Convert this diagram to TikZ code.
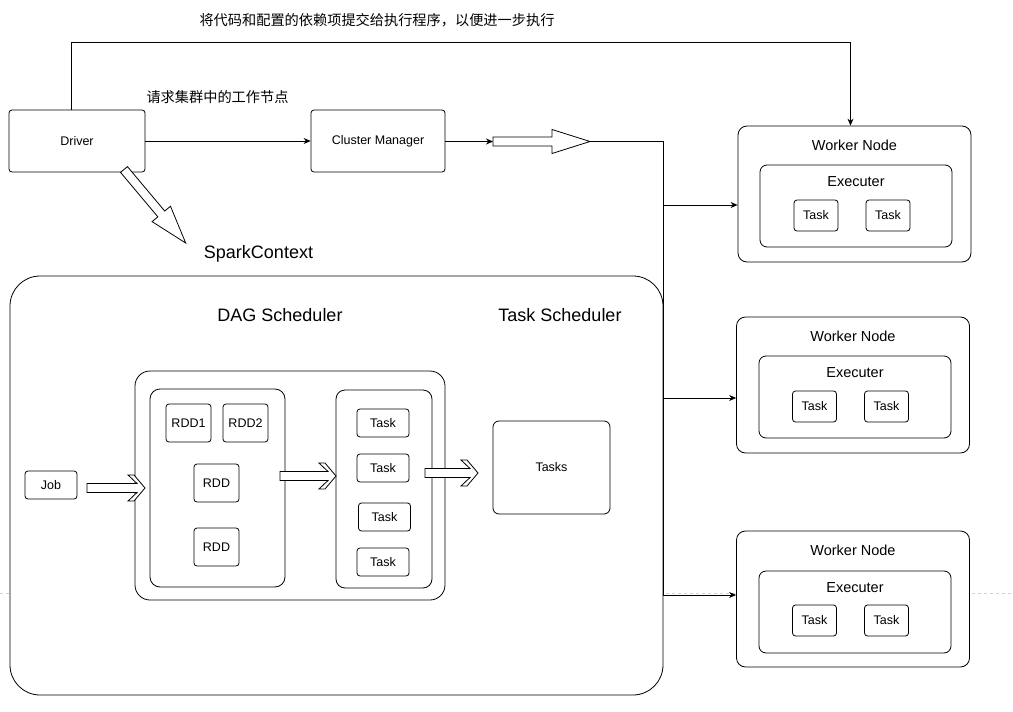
\documentclass[tikz,border=0pt]{standalone}
\usepackage{fontspec}
\setmainfont{Liberation Sans}
\newfontfamily\cjk{Noto Sans CJK SC}
\usetikzlibrary{arrows.meta}

\tikzset{
    pics/chevarrow/.style={code={
        \draw[fill=white] (0,-4.5) -- (#1-8,-4.5) -- (#1-17,-13) -- (#1-11,-13) -- (#1,0)
            -- (#1-11,13) -- (#1-17,13) -- (#1-8,4.5) -- (0,4.5) -- cycle;
    }},
    pics/blockarrow/.style={code={
        \draw[fill=white] (0,-4.5) -- (#1-38,-4.5) -- (#1-38,-12) -- (#1,0)
            -- (#1-38,12) -- (#1-38,4.5) -- (0,4.5) -- cycle;
    }},
}

\begin{document}
\begin{tikzpicture}[
    x=1pt, y=-1pt, line width=0.8pt, >={Stealth[length=7pt,width=6pt]},
    box/.style={rectangle, draw, fill=white, rounded corners=3pt, inner sep=0pt,
                font=\fontsize{12.5}{14}\selectfont},
    worker/.style={rectangle, draw, fill=white, rounded corners=9pt,
                   minimum width=233pt, minimum height=136pt},
    executer/.style={rectangle, draw, fill=white, rounded corners=7pt,
                     minimum width=192pt, minimum height=82pt},
    title/.style={inner sep=0pt, font=\fontsize{14.5}{16}\selectfont},
    bigtitle/.style={inner sep=0pt, font=\fontsize{18}{20}\selectfont},
    note/.style={inner sep=0pt, font=\cjk\fontsize{14.2}{16}\selectfont}
]
    \useasboundingbox (0,0) rectangle (1013,712);
    \draw[gray!35, dashed, line width=0.6pt] (0,593) -- (1013,593);

    % driver and cluster manager
    \node[box, minimum width=136pt, minimum height=62pt] (drv) at (77,141) {Driver};
    \node[box, minimum width=134pt, minimum height=62pt] (cm) at (378,141) {Cluster Manager};
    \node[note] (topnote) at (377,20) {将代码和配置的依赖项提交给执行程序，以便进一步执行};
    \node[note] (reqnote) at (217.5,97) {请求集群中的工作节点};

    % spark context
    \node[bigtitle] (sctitle) at (258.5,254) {SparkContext};
    \node[rectangle, draw, fill=white, rounded corners=30pt,
          minimum width=653pt, minimum height=419pt] (sc) at (336.5,485.5) {};
    \node[bigtitle] (dagtitle) at (280,315) {DAG Scheduler};
    \node[bigtitle] (tstitle) at (560,315) {Task Scheduler};

    \node[rectangle, draw, fill=white, rounded corners=15pt,
          minimum width=310pt, minimum height=229pt] (dag) at (290,485.5) {};
    \node[rectangle, draw, fill=white, rounded corners=10pt,
          minimum width=135pt, minimum height=198pt] (rdds) at (217.5,488) {};
    \node[rectangle, draw, fill=white, rounded corners=9pt,
          minimum width=96pt, minimum height=198pt] (tasklist) at (384,489) {};

    \node[box, minimum width=45pt, minimum height=38pt] (rdd1) at (188.5,423) {RDD1};
    \node[box, minimum width=45pt, minimum height=38pt] (rdd2) at (245.5,423) {RDD2};
    \node[box, minimum width=45pt, minimum height=38pt] (rdd3) at (216.5,483) {RDD};
    \node[box, minimum width=45pt, minimum height=38pt] (rdd4) at (216.5,547) {RDD};

    \node[box, minimum width=52pt, minimum height=28pt] (tk1) at (383,423) {Task};
    \node[box, minimum width=52pt, minimum height=28pt] (tk2) at (383,468) {Task};
    \node[box, minimum width=52pt, minimum height=28pt] (tk3) at (384.5,517) {Task};
    \node[box, minimum width=52pt, minimum height=28pt] (tk4) at (383,562) {Task};

    \node[box, minimum width=52pt, minimum height=28pt] (job) at (51,485) {Job};
    \node[box, rounded corners=6pt, minimum width=117pt, minimum height=93pt] (tasks) at (551.5,467.5) {Tasks};

    \pic at (87,488) {chevarrow=58};
    \pic at (280,476) {chevarrow=56};
    \pic at (425,473) {chevarrow=53};

    % worker nodes
    \node[worker] (w1) at (854.5,194) {};
    \node[title] (w1title) at (854.5,145) {Worker Node};
    \node[executer] (e1) at (856,206) {};
    \node[title] (e1title) at (856,182) {Executer};
    \node[box, minimum width=44pt, minimum height=31pt] (w1t1) at (816,215.5) {Task};
    \node[box, minimum width=44pt, minimum height=31pt] (w1t2) at (888,215.5) {Task};

    \node[worker] (w2) at (853,385) {};
    \node[title] (w2title) at (853,336) {Worker Node};
    \node[executer] (e2) at (855,397) {};
    \node[title] (e2title) at (855,373) {Executer};
    \node[box, minimum width=44pt, minimum height=31pt] (w2t1) at (814.5,406.5) {Task};
    \node[box, minimum width=44pt, minimum height=31pt] (w2t2) at (886.5,406.5) {Task};

    \node[worker] (w3) at (853,599) {};
    \node[title] (w3title) at (853,550) {Worker Node};
    \node[executer] (e3) at (855,612) {};
    \node[title] (e3title) at (855,588) {Executer};
    \node[box, minimum width=44pt, minimum height=31pt] (w3t1) at (814.5,620.5) {Task};
    \node[box, minimum width=44pt, minimum height=31pt] (w3t2) at (886.5,620.5) {Task};

    % connectors
    \coordinate (blk) at (493,141.5);
    \coordinate (blkend) at (590,141.5);
    \coordinate (j1) at (663,205);
    \coordinate (j2) at (663,398);
    \coordinate (j3) at (663,595);

    \draw[->] (drv) -- (cm);
    \draw[->] ([xshift=-6pt]drv.north) |- ([xshift=-4pt,yshift=83pt]w1.north) -- ([xshift=-4pt]w1.north);
    \draw[->] (cm.east |- blk) -- (blk);
    \pic at (blk) {blockarrow=97};
    \draw (blkend) -| (j3);
    \draw[->] (j1) -- (j1 -| w1.west);
    \draw[->] (j2) -- (j2 -| w2.west);
    \draw[->] (j3) -- (j3 -| w3.west);

    \pic[rotate=-50] at (124,169.5) {blockarrow=96};
\end{tikzpicture}
\end{document}
